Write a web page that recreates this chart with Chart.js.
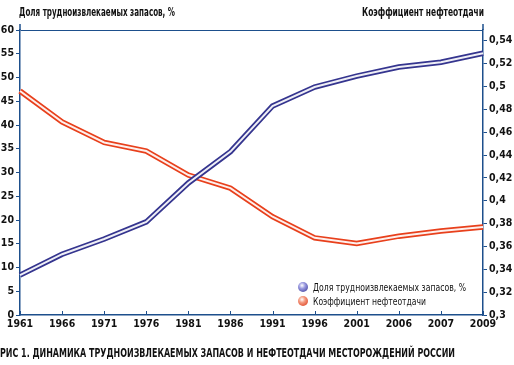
<!DOCTYPE html>
<html>
<head>
<meta charset="utf-8">
<script src="https://cdn.jsdelivr.net/npm/chart.js@4"></script>
<style>
  body { margin: 0; background: #fff; }
  #wrap { position: relative; width: 514px; height: 365px; overflow: hidden; }
  #chart { position: absolute; left: 0; top: 0; }
  .cond { font-family: 'DejaVu Sans Condensed', 'Liberation Sans', sans-serif; font-weight: bold; color: #111; position: absolute; white-space: nowrap; transform-origin: 0 50%; }
  #titleL { left: 19px; top: 5px; font-size: 11.5px; }
  #titleR { left: 362px; top: 5px; font-size: 11.5px; }
  #caption { left: 0px; top: 346px; font-size: 11.5px; }
  #legend { position: absolute; left: 298px; top: 280px; font-family: 'DejaVu Sans', sans-serif; font-size: 10.5px; color: #111; }
  #legend div { height: 14px; line-height: 14px; white-space: nowrap; }
  #legend .txt { display: inline-block; transform-origin: 0 50%; }
  .dot { display: inline-block; width: 10px; height: 10px; border-radius: 50%; vertical-align: -1px; margin-right: 5px; }
</style>
</head>
<body>
<div id="wrap">
  <canvas id="chart" width="514" height="365"></canvas>
  <div id="titleL" class="cond" data-w="156">Доля трудноизвлекаемых запасов, %</div>
  <div id="titleR" class="cond" data-w="122">Коэффициент нефтеотдачи</div>
  <div id="legend">
    <div><span class="dot" style="background: radial-gradient(circle at 40% 35%, #fff 0%, #9a9ae0 35%, #2e2e8e 100%);"></span><span class="txt" data-w="153">Доля трудноизвлекаемых запасов, %</span></div>
    <div><span class="dot" style="background: radial-gradient(circle at 40% 35%, #fff 0%, #f49a80 35%, #d8300f 100%);"></span><span class="txt" data-w="113">Коэффициент нефтеотдачи</span></div>
  </div>
  <div id="caption" class="cond" data-w="455">РИС 1. ДИНАМИКА ТРУДНОИЗВЛЕКАЕМЫХ ЗАПАСОВ И НЕФТЕОТДАЧИ МЕСТОРОЖДЕНИЙ РОССИИ</div>
</div>
<script>
// years on the x axis
const YEARS = ["1961", "1966", "1971", "1976", "1981", "1986", "1991", "1996", "2001", "2006", "2007", "2009"];

// share of hard-to-recover reserves, %
const HARD_SHARE = [8.4, 12.8, 16.0, 19.6, 27.8, 34.4, 44.0, 48.0, 50.3, 52.2, 53.2, 55.1];

// oil recovery factor
const RECOVERY = [0.496, 0.469, 0.451, 0.4435, 0.4225, 0.411, 0.386, 0.3675, 0.3625, 0.369, 0.3735, 0.377];

const LEFT_TICKS = [0, 5, 10, 15, 20, 25, 30, 35, 40, 45, 50, 55, 60];
const RIGHT_TICKS = [0.3, 0.32, 0.34, 0.36, 0.38, 0.4, 0.42, 0.44, 0.46, 0.48, 0.5, 0.52, 0.54];

const AXIS_COLOR = '#1d4f8c';
const TICK_FONT = { family: "'DejaVu Sans Condensed', sans-serif", size: 10.5, weight: 'bold' };

// squeeze text blocks to the widths seen in the reference
document.querySelectorAll('[data-w]').forEach(el => {
  const w = el.getBoundingClientRect().width;
  el.style.transform = 'scaleX(' + (Number(el.dataset.w) / w) + ')';
});

// small x tick marks pointing into the plot, and y axis lines running a bit above the top
const axisExtras = {
  id: 'axisExtras',
  afterDatasetsDraw(chart) {
    const x = chart.scales.x;
    const ctx = chart.ctx;
    const area = chart.chartArea;
    ctx.save();
    ctx.strokeStyle = AXIS_COLOR;
    ctx.lineWidth = 1;
    x.ticks.forEach((t, i) => {
      const px = Math.round(x.getPixelForTick(i)) + 0.5;
      ctx.beginPath();
      ctx.moveTo(px, area.bottom);
      ctx.lineTo(px, area.bottom - 4);
      ctx.stroke();
    });
    ctx.lineWidth = 1.5;
    [area.left, area.right].forEach(px => {
      ctx.beginPath();
      ctx.moveTo(px, area.top);
      ctx.lineTo(px, area.top - 6);
      ctx.stroke();
    });
    ctx.restore();
  }
};

function ribbon(label, data, axis, color, order) {
  return [
    { label: label, data: data, yAxisID: axis, borderColor: color, borderWidth: 5.5, pointRadius: 0, tension: 0, order: order + 1 },
    { label: label + ' hl', data: data, yAxisID: axis, borderColor: 'rgba(255,255,255,0.92)', borderWidth: 2, pointRadius: 0, tension: 0, order: order }
  ];
}

new Chart(document.getElementById('chart'), {
  type: 'line',
  data: {
    labels: YEARS,
    datasets: [
      ...ribbon('Доля трудноизвлекаемых запасов, %', HARD_SHARE, 'y', '#35358f', 0),
      ...ribbon('Коэффициент нефтеотдачи', RECOVERY, 'y1', '#e8401c', 2)
    ]
  },
  options: {
    animation: false,
    responsive: false,
    layout: { padding: { top: 30, bottom: 30, left: 0, right: 0 } },
    plugins: { legend: { display: false }, tooltip: { enabled: false } },
    scales: {
      x: {
        offset: false,
        afterFit(s) { s.height = 20; },
        grid: { display: true, drawOnChartArea: false, drawTicks: false },
        border: { color: AXIS_COLOR, width: 1.5 },
        ticks: { color: '#111', font: TICK_FONT, maxRotation: 0, autoSkip: false, padding: 3 }
      },
      y: {
        position: 'left',
        min: 0,
        max: 60,
        afterFit(s) { s.width = 20; },
        afterBuildTicks(s) { s.ticks = LEFT_TICKS.map(v => ({ value: v })); },
        grid: {
          drawOnChartArea: true,
          color: (c) => (c.tick && c.tick.value === 60) ? AXIS_COLOR : 'rgba(0,0,0,0)',
          tickColor: AXIS_COLOR,
          tickLength: 4
        },
        border: { color: AXIS_COLOR, width: 1.5 },
        ticks: { color: '#111', font: TICK_FONT, padding: 2 }
      },
      y1: {
        position: 'right',
        min: 0.3,
        max: 0.5494,
        afterFit(s) { s.width = 31; },
        afterBuildTicks(s) { s.ticks = RIGHT_TICKS.map(v => ({ value: v })); },
        grid: { drawOnChartArea: false, tickColor: AXIS_COLOR, tickLength: 4 },
        border: { color: AXIS_COLOR, width: 1.5 },
        ticks: {
          color: '#111', font: TICK_FONT, padding: 2,
          callback: (v) => String(Math.round(v * 100) / 100).replace('.', ',')
        }
      }
    }
  },
  plugins: [axisExtras]
});
</script>
</body>
</html>
